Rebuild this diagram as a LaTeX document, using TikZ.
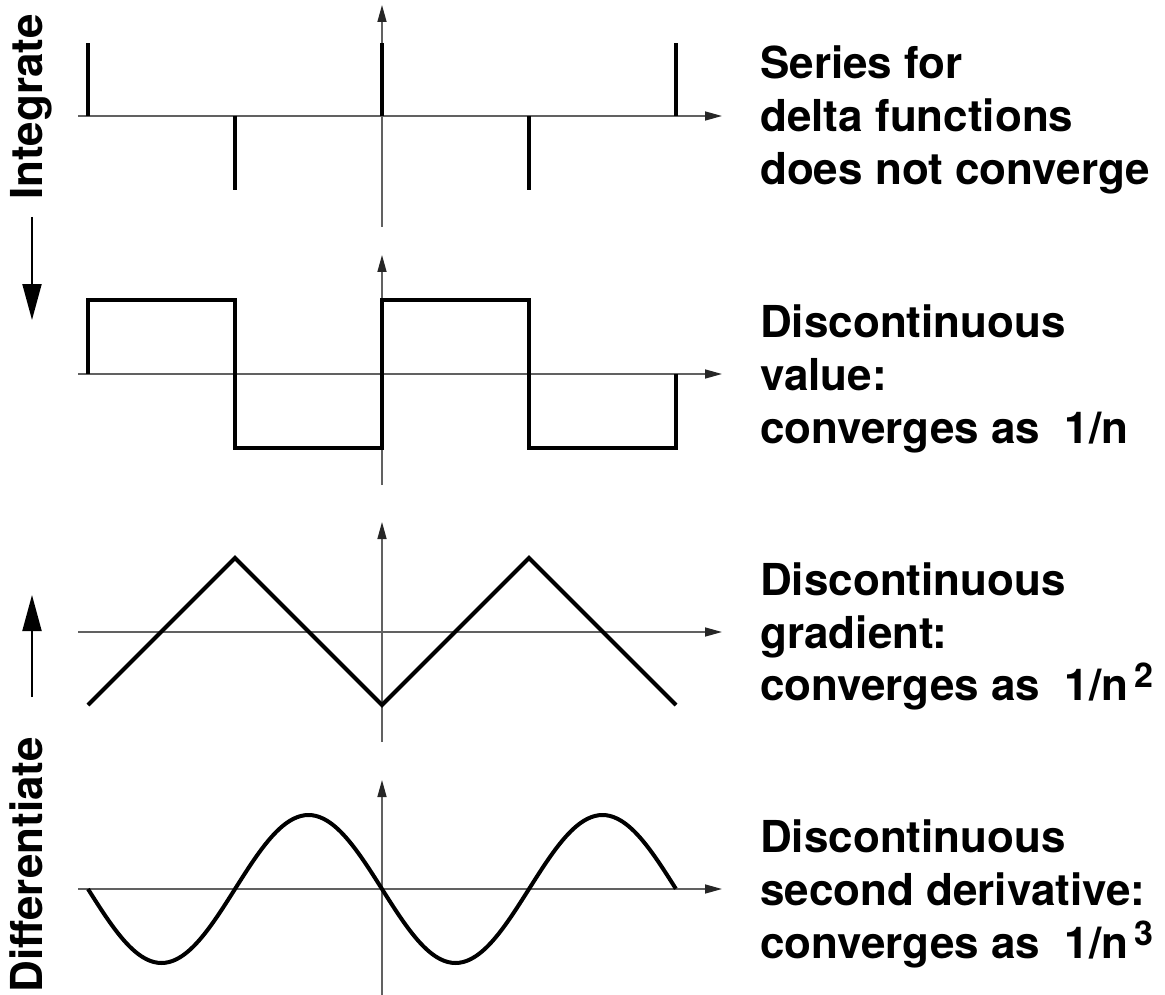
\documentclass[tikz,border=0pt]{standalone}
\usepackage{fontspec}
\setmainfont{TeX Gyre Heros}
\usetikzlibrary{arrows.meta}
\definecolor{axiscol}{gray}{0.38}
\tikzset{
  axisline/.style={draw=axiscol, line width=1.5pt, -{Triangle[length=17pt,width=9pt,color=black!85]}},
  curve/.style={draw=black, line width=4pt, line join=miter},
  spike/.style={draw=black, line width=4.5pt},
  bigarrow/.style={draw=black, line width=2pt, -{Triangle[length=36pt,width=19pt]}},
  lbl/.style={anchor=base west, inner sep=0pt, font=\fontsize{44}{53}\selectfont\bfseries},
  sidelbl/.style={anchor=base, inner sep=0pt, rotate=90, font=\fontsize{44}{53}\selectfont\bfseries}
}
\newcommand{\supnum}[1]{\kern6pt\raisebox{13pt}{\fontsize{34}{34}\selectfont #1}}
\begin{document}
\begin{tikzpicture}[x=1pt,y=-1pt]
\useasboundingbox (0,0) rectangle (1165,995);
% ---------- axes ----------
\foreach \ay/\vt/\vb [count=\k] in {116/5/227, 374/255/485, 632/522/742, 889/780/995}{
  \coordinate (hx\k s) at (78,\ay);
  \coordinate (hx\k e) at (722,\ay);
  \coordinate (vx\k s) at (382,\vb);
  \coordinate (vx\k e) at (382,\vt);
  \draw[axisline] (hx\k s) -- (hx\k e);
  \draw[axisline] (vx\k s) -- (vx\k e);
}
% ---------- panel 1: delta functions ----------
\foreach \x/\y [count=\i] in {88/43, 235/190, 382/43, 529/190, 676/43}{
  \coordinate (d\i a) at (\x,116);
  \coordinate (d\i b) at (\x,\y);
  \draw[spike] (d\i a) -- (d\i b);
}
% ---------- panel 2: square wave ----------
\draw[curve] (88,374) -- (88,300) -- (235,300) -- (235,448) -- (382,448)
  -- (382,300) -- (529,300) -- (529,448) -- (676,448) -- (676,374);
% ---------- panel 3: triangle wave ----------
\draw[curve] (88,705) -- (235,558) -- (382,705) -- (529,558) -- (676,705);
% ---------- panel 4: sine-like wave ----------
\draw[curve, line join=round] plot[domain=0:4, samples=161, smooth]
  ({88 + 147*\x}, {889 + 74*sin(180*\x)});
% ---------- left side ----------
\node[sidelbl] (integ) at (42,107) {Integrate};
\coordinate (ia) at (32,217);
\coordinate (ib) at (32,320);
\draw[bigarrow] (ia) -- (ib);
\node[sidelbl] (diff) at (42,865) {Differentiate};
\coordinate (da) at (32,697);
\coordinate (db) at (32,595);
\draw[bigarrow] (da) -- (db);
% ---------- right labels ----------
\node[lbl] (t11) at (760,79) {Series for};
\node[lbl] (t12) at (760,132) {delta functions};
\node[lbl] (t13) at (760,185) {does not converge};
\node[lbl] (t21) at (760,337) {Discontinuous};
\node[lbl] (t22) at (760,390) {value:};
\node[lbl] (t23) at (760,443) {converges as\ \ 1/n};
\node[lbl] (t31) at (760,595) {Discontinuous};
\node[lbl] (t32) at (760,648) {gradient:};
\node[lbl] (t33) at (760,700) {converges as\ \ 1/n\supnum{2}};
\node[lbl] (t41) at (760,852) {Discontinuous};
\node[lbl] (t42) at (760,905) {second derivative:};
\node[lbl] (t43) at (760,958) {converges as\ \ 1/n\supnum{3}};
\end{tikzpicture}
\end{document}
